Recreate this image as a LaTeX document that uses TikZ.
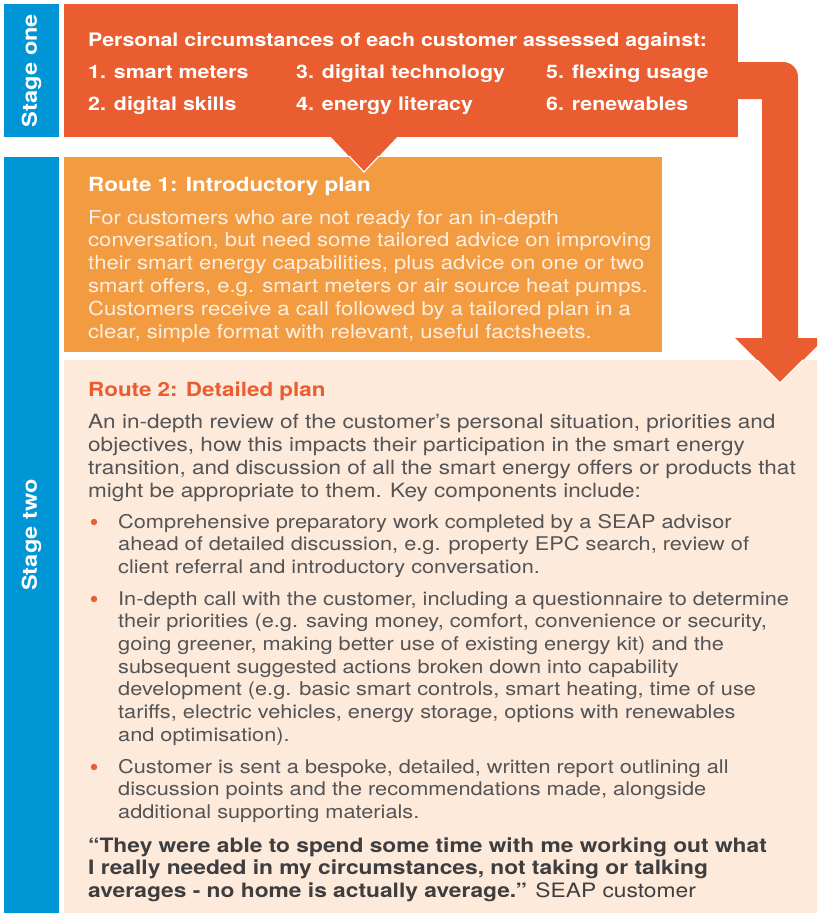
\documentclass[tikz,border=0pt]{standalone}
\usepackage{fontspec}
\setmainfont{TeX Gyre Heros}[FakeStretch=1.15]
\definecolor{stageblue}{RGB}{0,150,214}
\definecolor{stageorange}{RGB}{233,93,48}
\definecolor{routeorange}{RGB}{243,155,65}
\definecolor{routecream}{RGB}{253,234,218}
\definecolor{bodygray}{RGB}{84,84,86}
\definecolor{quotegray}{RGB}{62,62,64}
\definecolor{lighttext}{RGB}{253,240,226}
% a block of manually broken lines; the node's base is the first baseline
\newcommand\textblock[1]{\vtop{\hsize=740pt\parindent=0pt\parskip=0pt #1\par}}
\tikzset{
  panel/.style={fill=#1, draw=none, inner sep=0pt, outer sep=0pt, anchor=north west},
  txt/.style={inner sep=0pt, anchor=base west},
  stagelabel/.style={inner sep=0pt, text=white, rotate=90,
    font=\bfseries\fontsize{20.5}{24}\selectfont},
  itemtext/.style={txt, text=white, font=\bfseries\fontsize{18.6}{22}\selectfont},
  routehead/.style={txt, font=\bfseries\fontsize{19.5}{23}\selectfont},
  routeonebody/.style={txt, text=lighttext, font=\fontsize{19.2}{22.9}\selectfont},
  paratext/.style={txt, text=bodygray, font=\fontsize{19.6}{23.2}\selectfont},
  bullettext/.style={txt, text=bodygray, font=\fontsize{18.9}{22.7}\selectfont},
  bulletdot/.style={circle, fill=stageorange, inner sep=0pt, minimum size=6.4pt},
  quotetext/.style={txt, text=quotegray, font=\fontsize{19.8}{22.6}\selectfont},
}
\begin{document}
\begin{tikzpicture}[x=1pt,y=-1pt]
\useasboundingbox (0,0) rectangle (817,916);
\clip (0,0) rectangle (817,916);

% panels
\node[panel=stageblue, minimum width=55pt, minimum height=133pt] (s1tab) at (4,4) {};
\node[panel=stageorange, minimum width=674pt, minimum height=133pt] (s1box) at (64,4) {};
\node[panel=stageblue, minimum width=55pt, minimum height=756pt] (s2tab) at (4,157) {};
\node[panel=routeorange, minimum width=598pt, minimum height=195pt] (r1box) at (64,157) {};
\node[panel=routecream, minimum width=760pt, minimum height=553pt] (r2box) at (64,360) {};

% pointer from stage one down into route 1
\fill[stageorange] (330,136) -- (364,172) -- (398,136) -- cycle;
\draw[white, line width=1.2pt] (349,156) -- (364,172) -- (379,156);

% bent arrow from stage one down to route 2
\fill[stageorange] (737,62) -- (783,62) .. controls (791.3,62) and (798,68.7) .. (798,77)
  -- (798,338) -- (825,338) -- (780,383) -- (735,338) -- (762,338) -- (762,99) -- (737,99) -- cycle;
\draw[white, line width=1.2pt] (757,360) -- (780,383) -- (803,360);

% stage labels
\node[stagelabel] (s1label) at (s1tab.center) {Stage one};
\node[stagelabel] (s2label) at (s2tab.center) {Stage two};

% stage one content
\node[itemtext] (s1head) at (88,46) {Personal circumstances of each customer assessed against:};
\node[itemtext] (c1) at (88,78) {1. smart meters};
\node[itemtext] (c3) at (296,78) {3. digital technology};
\node[itemtext] (c5) at (546,78) {5. flexing usage};
\node[itemtext] (c2) at (88,110) {2. digital skills};
\node[itemtext] (c4) at (296,110) {4. energy literacy};
\node[itemtext] (c6) at (546,110) {6. renewables};

% route 1
\node[routehead, text=white] (r1title) at (88,191) {Route 1: Introductory plan};
\node[routeonebody] (r1text) at (88,224) {\textblock{%
For customers who are not ready for an in-depth\\
conversation, but need some tailored advice on improving\\
their smart energy capabilities, plus advice on one or two\\
smart offers, e.g. smart meters or air source heat pumps.\\
Customers receive a call followed by a tailored plan in a\\
clear, simple format with relevant, useful factsheets.}};

% route 2
\node[routehead, text=stageorange] (r2title) at (88,396) {Route 2: Detailed plan};
\node[paratext] (r2text) at (88,428) {\textblock{%
An in-depth review of the customer’s personal situation, priorities and\\
objectives, how this impacts their participation in the smart energy\\
transition, and discussion of all the smart energy offers or products that\\
might be appropriate to them. Key components include:}};

\node[bulletdot] (d1) at (94,522) {};
\node[bullettext] (b1) at (118,528) {\textblock{%
Comprehensive preparatory work completed by a SEAP advisor\\
ahead of detailed discussion, e.g. property EPC search, review of\\
client referral and introductory conversation.}};

\node[bulletdot] (d2) at (94,599) {};
\node[bullettext] (b2) at (118,605) {\textblock{%
In-depth call with the customer, including a questionnaire to determine\\
their priorities (e.g. saving money, comfort, convenience or security,\\
going greener, making better use of existing energy kit) and the\\
subsequent suggested actions broken down into capability\\
development (e.g. basic smart controls, smart heating, time of use\\
tariffs, electric vehicles, energy storage, options with renewables\\
and optimisation).}};

\node[bulletdot] (d3) at (94,767) {};
\node[bullettext] (b3) at (118,773) {\textblock{%
Customer is sent a bespoke, detailed, written report outlining all\\
discussion points and the recommendations made, alongside\\
additional supporting materials.}};

\node[quotetext] (quote) at (88,852) {\textblock{%
\textbf{“They were able to spend some time with me working out what}\\
\textbf{I really needed in my circumstances, not taking or talking}\\
\textbf{averages - no home is actually average.”} SEAP customer}};
\end{tikzpicture}
\end{document}
